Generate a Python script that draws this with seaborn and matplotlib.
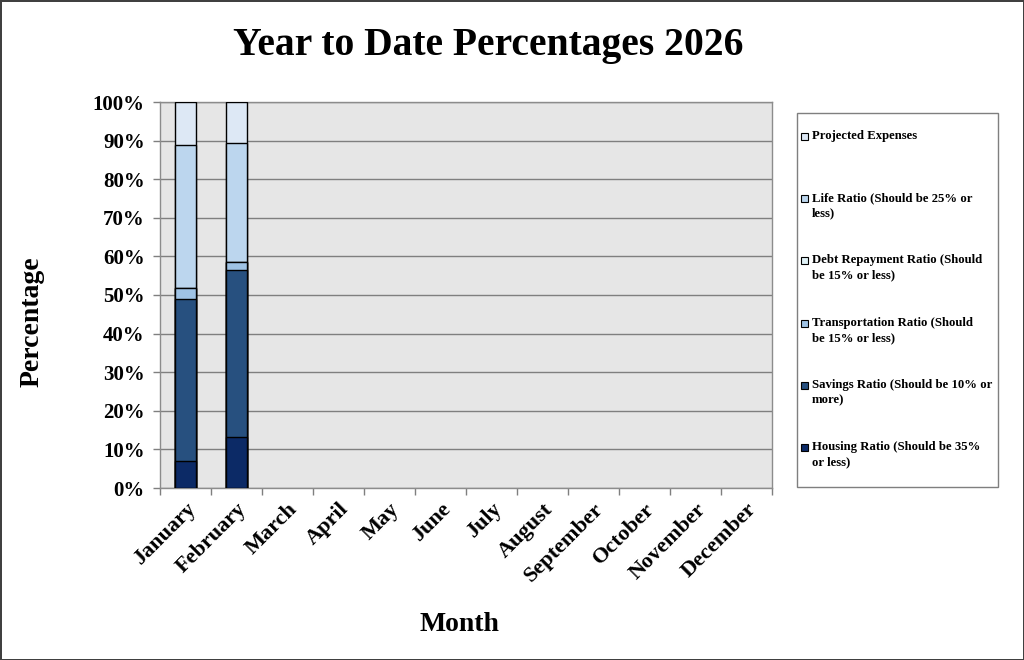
import numpy as np
import pandas as pd
import matplotlib
matplotlib.use("Agg")
import matplotlib.pyplot as plt
from matplotlib.patches import Rectangle
import seaborn as sns

months = ["January", "February", "March", "April", "May", "June", "July",
          "August", "September", "October", "November", "December"]
data_months = ["January", "February"]

housing = [7.0, 13.2]
savings = [42.0, 43.3]
transportation = [2.8, 2.0]
debt_repayment = [0.0, 0.0]
life_ratio = [37.1, 30.9]
projected = [11.1, 10.6]

series_names = [
    "Housing Ratio (Should be 35%\nor less)",
    "Savings Ratio (Should be 10% or\nmore)",
    "Transportation Ratio (Should\nbe 15% or less)",
    "Debt Repayment Ratio (Should\nbe 15% or less)",
    "Life Ratio (Should be 25% or\nless)",
    "Projected Expenses",
]
series_values = [housing, savings, transportation, debt_repayment, life_ratio, projected]
colors = ["#0c2a66", "#27507f", "#9fc3e5", "#dff1f6", "#bcd6ee", "#dde8f5"]

rows = []
cum = np.zeros(len(data_months))
for name, vals in zip(series_names, series_values):
    cum = cum + np.array(vals)
    for m, v in zip(data_months, cum):
        rows.append({"Month": m, "Series": name, "Top": v})
df = pd.DataFrame(rows)

sns.set_theme(style="white", rc={"text.color": "black", "axes.labelcolor": "black",
                                 "xtick.color": "black", "ytick.color": "black"})
plt.rcParams["font.family"] = ["Liberation Serif", "DejaVu Serif"]
plt.rcParams["font.weight"] = "bold"

fig = plt.figure(figsize=(10.24, 6.6), dpi=100)
fig.patch.set_facecolor("white")
fig.patch.set_edgecolor("#404040")
fig.patch.set_linewidth(2)

ax = fig.add_axes([160/1024, 1-488/660, (772-160)/1024, (488-102)/660])
ax.set_facecolor("#e6e6e6")

for name, col in reversed(list(zip(series_names, colors))):
    sub = df[df["Series"] == name]
    sns.barplot(data=sub, x="Month", y="Top", order=months, color=col,
                width=0.4, edgecolor="black", linewidth=1.0, errorbar=None,
                saturation=1, ax=ax, zorder=3)

ax.set_xlim(-0.5, 11.5)
ax.set_ylim(0, 100)
ax.set_yticks(np.arange(0, 101, 10))
ax.set_yticklabels([f"{v}%" for v in range(0, 101, 10)], fontsize=15, fontweight="bold")
ax.yaxis.grid(True, color="#7f7f7f", linewidth=1.0, zorder=0)
ax.set_axisbelow(True)

ax.set_xticks(np.arange(-0.5, 12.0, 1.0))
ax.set_xticklabels([])
ax.set_xticks(np.arange(12), minor=True)
ax.set_xticklabels(months, minor=True, rotation=45, ha="right",
                   rotation_mode="anchor", fontsize=16, fontweight="bold")
ax.tick_params(axis="x", which="major", direction="out", length=5, width=1,
               color="#7f7f7f", bottom=True)
ax.tick_params(axis="x", which="minor", length=0, pad=8)
ax.tick_params(axis="y", direction="out", length=5, width=1, color="#7f7f7f",
               left=True, pad=6)

for s in ax.spines.values():
    s.set_color("#8c8c8c")
    s.set_linewidth(1.0)

ax.set_xlabel("Month", fontsize=20, fontweight="bold")
ax.xaxis.set_label_coords((459-160)/612, (488-612)/386)
ax.set_ylabel("Percentage", fontsize=20, fontweight="bold")
ax.yaxis.set_label_coords((45-160)/612, (488-322)/386)
fig.text(488/1024, 1-45/660, "Year to Date Percentages 2026", ha="center",
         va="center", fontsize=28.5, fontweight="bold")

# legend frame and entries
fig.patches.append(Rectangle((797/1024, 1-487/660), (998-797)/1024, (487-113)/660,
                             transform=fig.transFigure, facecolor="white",
                             edgecolor="#7f7f7f", linewidth=1.0, zorder=1))
entry_y = [137, 199, 261, 324, 386, 448]
for y, name, col in zip(entry_y, reversed(series_names), reversed(colors)):
    fig.patches.append(Rectangle((801/1024, 1-(y+3)/660), 7/1024, 7/660,
                                 transform=fig.transFigure, facecolor=col,
                                 edgecolor="black", linewidth=0.8, zorder=2))
    fig.text(812/1024, 1-(y-7)/660, name, ha="left", va="top", fontsize=9.2,
             fontweight="bold", linespacing=1.35, zorder=3)

fig.savefig("out.png", dpi=100)
